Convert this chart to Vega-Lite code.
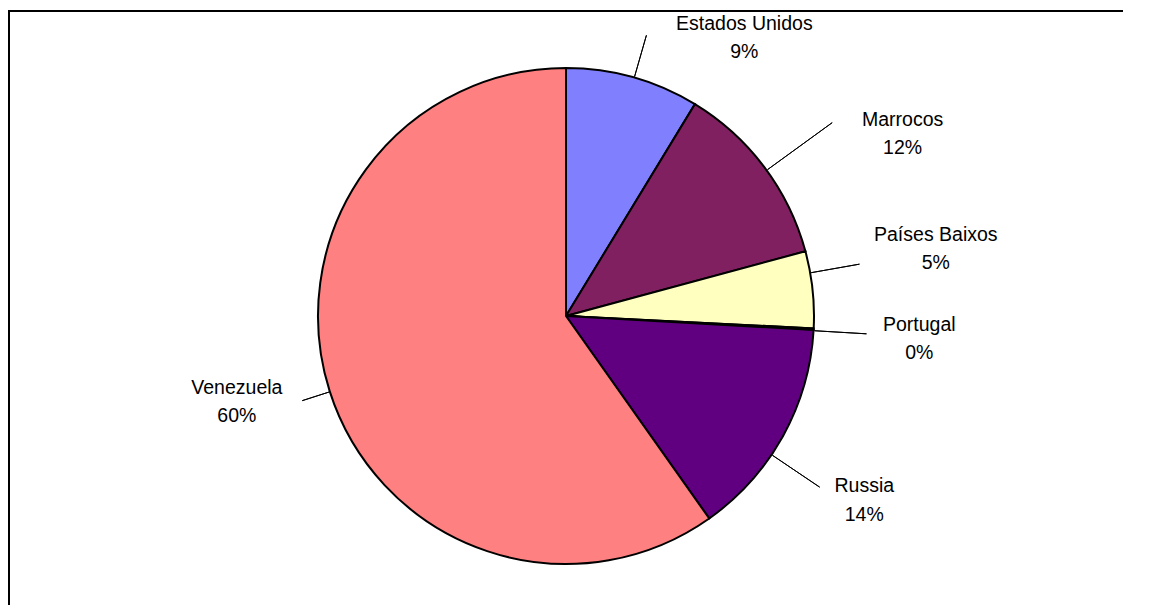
{
  "$schema": "https://vega.github.io/schema/vega-lite/v6.json",
  "width": 1114,
  "height": 610,
  "autosize": {"type": "none"},
  "padding": {"left": 9, "top": 11, "right": 0, "bottom": 0},
  "background": "white",
  "view": {"stroke": "black", "strokeWidth": 2, "strokeDash": [1114, 1724, 610]},
  "config": {"text": {"font": "Liberation Sans", "fontSize": 19.5, "color": "black"}},
  "data": {"values": [
    {"country": "Estados Unidos", "value": 0.087, "order": 1},
    {"country": "Marrocos", "value": 0.121, "order": 2},
    {"country": "Países Baixos", "value": 0.05, "order": 3},
    {"country": "Portugal", "value": 0.001, "order": 4},
    {"country": "Russia", "value": 0.143, "order": 5},
    {"country": "Venezuela", "value": 0.598, "order": 6}
  ]},
  "transform": [
    {"stack": "value", "groupby": [], "sort": [{"field": "order", "order": "ascending"}], "as": ["v0", "v1"]}
  ],
  "encoding": {
    "theta": {"field": "v0", "type": "quantitative", "scale": {"domain": [0, 1], "range": [0, 6.283185307]}}
  },
  "layer": [
    {
      "mark": {"type": "arc", "radius": 248, "stroke": "black", "strokeWidth": 2},
      "encoding": {
        "theta2": {"field": "v1"},
        "color": {"field": "country", "type": "nominal", "legend": null,
          "scale": {"domain": ["Estados Unidos", "Marrocos", "Países Baixos", "Portugal", "Russia", "Venezuela"],
                    "range": ["#8080FF", "#802060", "#FFFFC0", "#C0FFFF", "#600080", "#FF8080"]}}
      }
    },
    {
      "transform": [{"filter": "datum.country === 'Estados Unidos'"}],
      "layer": [
        {"mark": {"type": "arc", "radius": 249, "radius2": 292, "thetaOffset": 0.279, "theta2Offset": 0.279, "fill": null, "stroke": "black", "strokeWidth": 1}, "encoding": {"theta2": {"field": "v0"}}},
        {"mark": {"type": "text", "radius": 331, "thetaOffset": 0.569, "dy": -13}, "encoding": {"text": {"field": "country"}}},
        {"mark": {"type": "text", "radius": 331, "thetaOffset": 0.569, "dy": 15}, "encoding": {"text": {"field": "value", "type": "quantitative", "format": ".0%"}}}
      ]
    },
    {
      "transform": [{"filter": "datum.country === 'Marrocos'"}],
      "layer": [
        {"mark": {"type": "arc", "radius": 249, "radius2": 329, "thetaOffset": 0.396, "theta2Offset": 0.396, "fill": null, "stroke": "black", "strokeWidth": 1}, "encoding": {"theta2": {"field": "v0"}}},
        {"mark": {"type": "text", "radius": 383, "thetaOffset": 0.527, "dy": -13}, "encoding": {"text": {"field": "country"}}},
        {"mark": {"type": "text", "radius": 383, "thetaOffset": 0.527, "dy": 15}, "encoding": {"text": {"field": "value", "type": "quantitative", "format": ".0%"}}}
      ]
    },
    {
      "transform": [{"filter": "datum.country === 'Países Baixos'"}],
      "layer": [
        {"mark": {"type": "arc", "radius": 249, "radius2": 298, "thetaOffset": 0.089, "theta2Offset": 0.089, "fill": null, "stroke": "black", "strokeWidth": 1}, "encoding": {"theta2": {"field": "v0"}}},
        {"mark": {"type": "text", "radius": 376, "thetaOffset": 0.082, "dy": -13}, "encoding": {"text": {"field": "country"}}},
        {"mark": {"type": "text", "radius": 376, "thetaOffset": 0.082, "dy": 15}, "encoding": {"text": {"field": "value", "type": "quantitative", "format": ".0%"}}}
      ]
    },
    {
      "transform": [{"filter": "datum.country === 'Portugal'"}],
      "layer": [
        {"mark": {"type": "arc", "radius": 249, "radius2": 301, "thetaOffset": 0.009, "theta2Offset": 0.009, "fill": null, "stroke": "black", "strokeWidth": 1}, "encoding": {"theta2": {"field": "v0"}}},
        {"mark": {"type": "text", "radius": 354, "thetaOffset": 0.013, "dy": -13}, "encoding": {"text": {"field": "country"}}},
        {"mark": {"type": "text", "radius": 354, "thetaOffset": 0.013, "dy": 15}, "encoding": {"text": {"field": "value", "type": "quantitative", "format": ".0%"}}}
      ]
    },
    {
      "transform": [{"filter": "datum.country === 'Russia'"}],
      "layer": [
        {"mark": {"type": "arc", "radius": 249, "radius2": 306, "thetaOffset": 0.537, "theta2Offset": 0.537, "fill": null, "stroke": "black", "strokeWidth": 1}, "encoding": {"theta2": {"field": "v0"}}},
        {"mark": {"type": "text", "radius": 350, "thetaOffset": 0.494, "dy": -13}, "encoding": {"text": {"field": "country"}}},
        {"mark": {"type": "text", "radius": 350, "thetaOffset": 0.494, "dy": 16}, "encoding": {"text": {"field": "value", "type": "quantitative", "format": ".0%"}}}
      ]
    },
    {
      "transform": [{"filter": "datum.country === 'Venezuela'"}],
      "layer": [
        {"mark": {"type": "arc", "radius": 249, "radius2": 277, "thetaOffset": 1.876, "theta2Offset": 1.876, "fill": null, "stroke": "black", "strokeWidth": 1}, "encoding": {"theta2": {"field": "v0"}}},
        {"mark": {"type": "text", "radius": 340, "thetaOffset": 1.933, "dy": -13}, "encoding": {"text": {"field": "country"}}},
        {"mark": {"type": "text", "radius": 340, "thetaOffset": 1.933, "dy": 15}, "encoding": {"text": {"field": "value", "type": "quantitative", "format": ".0%"}}}
      ]
    }
  ]
}
